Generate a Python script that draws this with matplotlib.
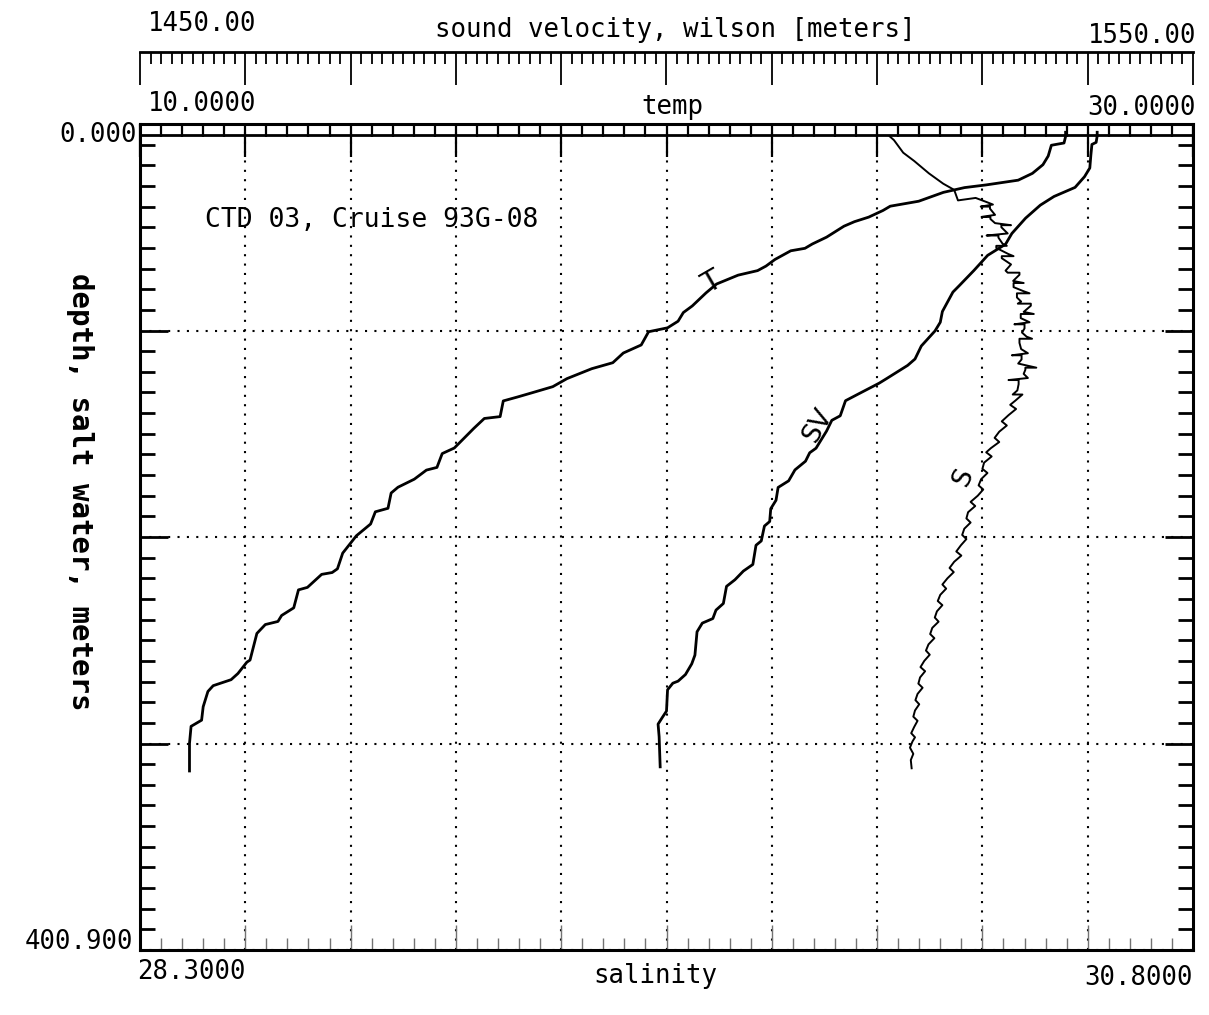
import numpy as np
import matplotlib
matplotlib.use("Agg")
import matplotlib.pyplot as plt
from matplotlib.ticker import MultipleLocator, FixedLocator

# CTD 03 cast (depth in m)
t_depth = [313.3, 300.0, 291.7, 288.7, 282.2, 274.8, 272.0, 269.1, 266.1, 260.6, 259.6,
           246.7, 242.4, 240.9, 238.0, 234.3, 225.6, 224.4, 218.1, 217.2, 215.4, 207.8,
           199.4, 193.7, 187.8, 186.1, 178.7, 175.9, 172.0, 167.6, 166.3, 159.6, 156.9,
           147.4, 142.6, 141.7, 134.1, 132.2, 130.2, 127.2, 123.3, 118.5, 115.6, 110.9,
           107.0, 100.6, 98.7, 95.5, 91.3, 88.1, 81.8, 77.5, 75.4, 73.2, 71.0, 68.8,
           65.6, 61.4, 60.2, 58.1, 54.8, 49.5, 47.3, 45.1, 41.9, 39.8, 37.4, 33.1,
           30.8, 29.5, 27.2, 23.9, 19.7, 15.5, 10.3, 9.2, 6.1, 4.0]
t_val = [10.94, 10.94, 10.97, 11.17, 11.20, 11.29, 11.39, 11.73, 11.86, 12.03, 12.09,
         12.22, 12.38, 12.62, 12.69, 12.92, 13.01, 13.18, 13.45, 13.65, 13.75, 13.85,
         14.11, 14.38, 14.47, 14.71, 14.77, 14.90, 15.21, 15.44, 15.64, 15.74, 15.97,
         16.34, 16.54, 16.84, 16.90, 17.17, 17.44, 17.84, 18.11, 18.58, 18.98, 19.18,
         19.52, 19.66, 20.02, 20.22, 20.32, 20.49, 20.75, 20.95, 21.15, 21.36, 21.73, 21.89,
         22.06, 22.36, 22.63, 22.77, 23.04, 23.37, 23.57, 23.84, 24.11, 24.25, 24.79, 25.26,
         25.66, 26.07, 26.68, 26.95, 27.15, 27.25, 27.31, 27.55, 27.58, 27.58]

sv_depth = [311.3, 296.7, 290.6, 287.4, 284.3, 274.0, 270.8, 269.8, 266.6, 261.4, 257.2,
            245.9, 241.7, 239.5, 235.4, 232.2, 223.9, 220.7, 216.5, 213.3, 204.0, 201.9,
            194.7, 192.5, 186.3, 182.2, 176.0, 172.8, 167.5, 163.3, 159.2, 157.0, 148.7,
            143.5, 141.3, 134.0, 130.8, 125.5, 123.3, 116.9, 113.8, 107.5, 100.2, 96.0,
            90.8, 81.4, 78.3, 70.9, 63.6, 58.2, 53.0, 45.6, 39.3, 35.1, 30.7, 25.5,
            21.3, 15.1, 9.9, 8.9, 5.8, 4.0]
sv_val = [1499.4, 1499.3, 1499.2, 1499.6, 1500.0, 1500.1, 1500.6, 1501.1, 1501.8, 1502.4, 1502.7,
          1502.9, 1503.4, 1504.4, 1504.7, 1505.4, 1505.7, 1506.5, 1507.3, 1508.2, 1508.5, 1509.0,
          1509.3, 1509.8, 1509.9, 1510.4, 1510.6, 1511.6, 1512.2, 1513.2, 1513.6, 1514.2, 1515.2,
          1515.7, 1516.5, 1517.0, 1518.2, 1520.2, 1520.9, 1522.9, 1523.6, 1524.2, 1525.5, 1526.0,
          1526.2, 1527.2, 1527.8, 1529.2, 1530.5, 1532.2, 1532.8, 1534.1, 1535.5, 1536.8, 1538.8, 1539.7,
          1540.2, 1540.3, 1540.4, 1540.8, 1540.9, 1540.9]

s_depth = [312, 308, 305, 302, 299, 297, 295, 292, 289, 287, 284, 281, 279, 276, 273, 271,
           268, 265, 263, 260, 257, 255, 252, 249, 247, 244, 241, 239, 236, 233, 231, 228,
           225, 223, 220, 217, 215, 212, 209, 207, 204, 201, 199, 196, 193, 191, 188, 185,
           183, 180, 177, 175, 172, 169, 167, 164, 161, 159, 157, 154, 152, 149, 146, 144,
           141, 138, 136, 134, 131, 131, 129, 126, 124, 124, 123, 121, 119, 118, 118, 116,
           114, 112, 112, 111, 109, 106, 104, 104, 103, 101, 99, 97, 97, 96, 94, 92, 92, 91,
           88, 87, 87, 86, 84, 82, 82, 81, 79, 77, 77, 76, 73, 72, 72, 71, 68, 65, 64, 64,
           63, 60, 59, 59, 58, 55, 54, 54, 53, 50, 49, 49, 48, 46, 45, 45, 44, 41, 40, 40,
           39, 37.8, 35.8, 37.0, 31.9, 28.9, 23.9, 17.9, 13.9, 7.8, 6.0]
s_val = [30.132, 30.130, 30.136, 30.128, 30.134, 30.140, 30.131, 30.138, 30.146, 30.136,
         30.140, 30.150, 30.141, 30.146, 30.158, 30.148, 30.152, 30.164, 30.153, 30.162,
         30.175, 30.166, 30.172, 30.186, 30.176, 30.181, 30.196, 30.187, 30.192, 30.205,
         30.194, 30.200, 30.214, 30.205, 30.217, 30.232, 30.222, 30.233, 30.250, 30.238,
         30.249, 30.262, 30.252, 30.257, 30.272, 30.262, 30.266, 30.283, 30.272, 30.289,
         30.302, 30.291, 30.297, 30.312, 30.300, 30.304, 30.322, 30.309, 30.320, 30.340,
         30.329, 30.340, 30.358, 30.346, 30.362, 30.380, 30.366, 30.378, 30.395, 30.372,
         30.383, 30.386, 30.386, 30.362, 30.408, 30.398, 30.402, 30.402, 30.428, 30.385,
         30.393, 30.393, 30.370, 30.408, 30.392, 30.388, 30.388, 30.418, 30.405, 30.394,
         30.400, 30.400, 30.376, 30.412, 30.391, 30.391, 30.422, 30.398, 30.415, 30.415,
         30.384, 30.392, 30.382, 30.382, 30.412, 30.398, 30.374, 30.374, 30.398, 30.373,
         30.388, 30.388, 30.360, 30.355, 30.368, 30.346, 30.346, 30.374, 30.362, 30.333,
         30.333, 30.358, 30.348, 30.338, 30.338, 30.310, 30.360, 30.345, 30.345, 30.368,
         30.330, 30.319, 30.319, 30.298, 30.330, 30.318, 30.318, 30.296, 30.325, 30.310,
         30.284, 30.242, 30.233, 30.207, 30.173, 30.138, 30.112, 30.090, 30.080]

sal_grid = [28.55, 28.80, 29.05, 29.30, 29.55, 29.80, 30.05, 30.30, 30.55]

W, H = 1209, 1015
L, R, TOP, BOT = 140, 1193, 124, 950
mono = "DejaVu Sans Mono"

fig = plt.figure(figsize=(W / 100, H / 100), dpi=100)
fig.patch.set_facecolor("white")

ax = fig.add_axes([L / W, 1 - BOT / H, (R - L) / W, (BOT - TOP) / H])
ax.set_xlim(28.3, 30.8)
ax.set_ylim(400, 0)
for s in ax.spines.values():
    s.set_linewidth(2.2)
ax.yaxis.set_major_locator(MultipleLocator(100))
ax.yaxis.set_minor_locator(MultipleLocator(10))
ax.xaxis.set_major_locator(FixedLocator(sal_grid))
ax.xaxis.set_minor_locator(MultipleLocator(0.05))
ax.tick_params(axis="y", which="both", left=True, right=True, direction="in",
               labelleft=False, width=2)
ax.tick_params(axis="y", which="major", length=20)
ax.tick_params(axis="y", which="minor", length=11)
ax.tick_params(axis="x", which="both", bottom=True, top=False, direction="in",
               labelbottom=False, color="0.45", width=1)
ax.tick_params(axis="x", which="major", length=18)
ax.tick_params(axis="x", which="minor", length=9)
ax.grid(which="major", color="black", linestyle=(0, (1, 3.5)), linewidth=1.5)
ax.axhline(5.3, color="black", lw=2)

# temperature scale (top strip)
ax_t = ax.twiny()
ax_t.set_xlim(10, 30)
for s in ax_t.spines.values():
    s.set_visible(False)
ax_t.xaxis.set_major_locator(MultipleLocator(2))
ax_t.xaxis.set_minor_locator(MultipleLocator(0.4))
ax_t.tick_params(axis="x", which="both", direction="in", labeltop=False, width=1.6)
ax_t.tick_params(axis="x", which="major", length=24)
ax_t.tick_params(axis="x", which="minor", length=9)

# sound velocity curve axis
ax_sv = ax.twiny()
ax_sv.set_xlim(1450, 1550)
ax_sv.axis("off")

# separate sound velocity scale at the very top
ax_scale = fig.add_axes([L / W, 1 - 90 / H, (R - L) / W, 38 / H])
ax_scale.set_xlim(1450, 1550)
ax_scale.patch.set_alpha(0)
for k in ["left", "right", "bottom"]:
    ax_scale.spines[k].set_visible(False)
ax_scale.spines["top"].set_linewidth(2)
ax_scale.yaxis.set_visible(False)
ax_scale.xaxis.tick_top()
ax_scale.xaxis.set_major_locator(MultipleLocator(10))
ax_scale.xaxis.set_minor_locator(MultipleLocator(1))
ax_scale.tick_params(axis="x", which="both", direction="in", labeltop=False, width=1.3)
ax_scale.tick_params(axis="x", which="major", length=24)
ax_scale.tick_params(axis="x", which="minor", length=8.5)

# curves
ax_t.plot(t_val, t_depth, color="black", lw=2)
ax_sv.plot(sv_val, sv_depth, color="black", lw=2)
ax.plot(s_val, s_depth, color="black", lw=1.4)

# curve labels
ax.text(29.658, 77, "T", rotation=30, fontsize=21, ha="center", va="center")
ax.text(29.91, 146, "SV", rotation=60, fontsize=19, ha="center", va="center")
ax.text(30.254, 171, "S", rotation=65, fontsize=19, ha="center", va="center")


def label(x, y, s, **kw):
    kw.setdefault("fontsize", 18.5)
    kw.setdefault("family", mono)
    kw.setdefault("va", "center")
    fig.text(x / W, 1 - y / H, s, **kw)


label(148, 24, "1450.00", ha="left")
label(675, 30, "sound velocity, wilson [meters]", ha="center")
label(1196, 36, "1550.00", ha="right")
label(148, 104, "10.0000", ha="left")
label(672, 107, "temp", ha="center")
label(1196, 108, "30.0000", ha="right")
label(137, 135, "0.000", ha="right")
label(133, 942, "400.900", ha="right")
label(137, 972, "28.3000", ha="left")
label(655, 976, "salinity", ha="center")
label(1193, 978, "30.8000", ha="right")
label(80, 492, "depth, salt water, meters", ha="center", rotation=-90,
      fontsize=21, fontweight="bold")
label(205, 220, "CTD 03, Cruise 93G-08", ha="left", fontsize=19)

fig.savefig("out.png", dpi=100)
